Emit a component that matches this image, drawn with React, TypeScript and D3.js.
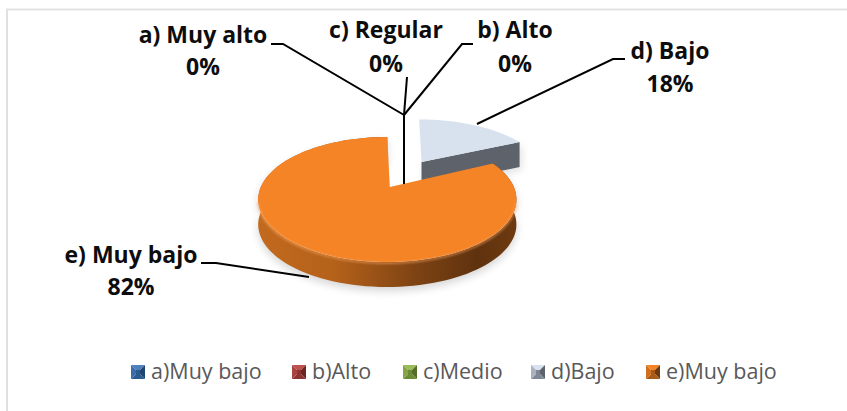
import React from "react";
import * as d3 from "d3";

const W = 847, H = 411;
const sliceNames = ["a) Muy alto", "b) Alto", "c) Regular", "d) Bajo", "e) Muy bajo"];
const sliceValues = [0, 0, 0, 18, 82];
const sliceLabels = ["0%", "0%", "0%", "18%", "82%"];
const legendNames = ["a)Muy bajo", "b)Alto", "c)Medio", "d)Bajo", "e)Muy bajo"];
const legendX = [131, 292, 403, 531, 646];
const legendPalette = [
  ["#4f81bd", "#2c5a8f", "#1f4672", "#3a6ea8"],
  ["#c0504d", "#8e3432", "#6e2422", "#a84543"],
  ["#9bbb59", "#6d8a36", "#536c26", "#86a348"],
  ["#d9e2ee", "#7f8894", "#5d626b", "#aab2bd"],
  ["#f58426", "#a85a17", "#6d3a10", "#d0701f"],
];
const labelPos: [number, number, number][] = [
  [203, 43, 75],
  [515, 38, 72],
  [386, 38, 72],
  [670, 59, 92],
  [131, 263, 295],
];
const leaders: [number, number][][] = [
  [[271, 44], [283, 44], [404, 115], [404, 184]],
  [[473, 44], [462, 44], [404, 115]],
  [[407, 77], [404, 115]],
  [[625, 59], [613, 59], [477, 124]],
  [[201, 263], [216, 263], [309, 277]],
];

// Perspective projection of the unit pie disc onto the page
const apexX = 387.3, apexY = 187, scaleU = 126.5, scaleV = 60, persp = 0.2, depth = 25;
const project = (u: number, v: number): [number, number] => {
  const w = 1 - persp * v;
  return [apexX + (scaleU * u) / w, apexY + (scaleV * v) / w];
};

const arcs = d3.pie<number>().sort(null).startAngle(0).endAngle(2 * Math.PI)(sliceValues);
const bajo = arcs[3];
const muyBajo = arcs[4];
const explode: [number, number] = [0.325, -0.4545];

const rim = (a0: number, a1: number, off: [number, number] = [0, 0]) =>
  d3.range(0, 121).map((i) => {
    const a = a0 + ((a1 - a0) * i) / 120;
    return project(off[0] + Math.sin(a), off[1] - Math.cos(a));
  });

const line = d3.line<[number, number]>();
const down = (p: [number, number]): [number, number] => [p[0], p[1] + depth];

const bajoApex = project(explode[0] - 0.03, explode[1]);
const bajoRim = rim(bajo.startAngle, bajo.endAngle, explode);
const bajoTop = line([bajoApex, ...bajoRim])! + "Z";
const bajoWall = line([bajoApex, bajoRim[bajoRim.length - 1], down(bajoRim[bajoRim.length - 1]), down(bajoApex)])! + "Z";

const mbApex = project(0.02, 0);
const mbRim = rim(muyBajo.startAngle, muyBajo.endAngle);
const mbTop = line([mbApex, ...mbRim])! + "Z";
const mbFront = mbRim.filter((p) => p[1] > 200);
const mbWall = line([...mbRim, ...[...mbRim].reverse().map(down)])! + "Z";
const mbEdge = line(mbFront)!;

function Marker({ x, y, c }: { x: number; y: number; c: string[] }) {
  const s = 14, m = 5;
  const a = `${x},${y}`, b = `${x + s},${y}`, d = `${x + s},${y + s}`, e = `${x},${y + s}`;
  const i1 = `${x + m},${y + m}`, i2 = `${x + s - m},${y + m}`, i3 = `${x + s - m},${y + s - m}`, i4 = `${x + m},${y + s - m}`;
  return (
    <g>
      <polygon points={`${a} ${b} ${i2} ${i1}`} fill={c[0]} />
      <polygon points={`${b} ${d} ${i3} ${i2}`} fill={c[2]} />
      <polygon points={`${d} ${e} ${i4} ${i3}`} fill={c[1]} />
      <polygon points={`${e} ${a} ${i1} ${i4}`} fill={c[3]} />
      <polygon points={`${i1} ${i2} ${i3} ${i4}`} fill={c[1]} />
    </g>
  );
}

export default function App() {
  const font = "'Open Sans', Lato, sans-serif";
  return (
    <svg width={W} height={H} style={{ position: "absolute", left: 0, top: 0 }} fontFamily={font}>
      <defs>
        <linearGradient id="wallO" gradientUnits="userSpaceOnUse" x1="258" x2="516" y1="0" y2="0">
          <stop offset="0" stopColor="#c26a1e" />
          <stop offset="0.3" stopColor="#b4611a" />
          <stop offset="0.62" stopColor="#7c4213" />
          <stop offset="0.85" stopColor="#5f320e" />
          <stop offset="1" stopColor="#6e3a10" />
        </linearGradient>
        <filter id="soft" x="-20%" y="-20%" width="140%" height="140%">
          <feGaussianBlur stdDeviation="4" />
        </filter>
        <filter id="edge" x="-5%" y="-20%" width="110%" height="140%">
          <feGaussianBlur stdDeviation="1.2" />
        </filter>
      </defs>
      <rect width={W} height={H} fill="#fff" />
      <line x1="7" y1="9" x2="7" y2={H} stroke="#e0e0e0" strokeWidth="2" />
      <line x1="6" y1="9.5" x2={W} y2="9.5" stroke="#e2e2e2" strokeWidth="2" />

      <path d={mbWall} transform="translate(0,4)" fill="#000" opacity="0.16" filter="url(#soft)" />
      <path d={bajoWall} transform="translate(2,3)" fill="#000" opacity="0.12" filter="url(#soft)" />

      <path d={bajoWall} fill="#5d626b" />
      <path d={bajoTop} fill="#d8e2ee" />

      <path d={mbWall} fill="url(#wallO)" />
      <path d={mbTop} fill="#f58426" />
      <path d={mbEdge} transform="translate(0,1)" fill="none" stroke="#f9a662" strokeWidth="2" opacity="0.6" filter="url(#edge)" />

      {leaders.map((pts, i) => (
        <path key={i} d={line(pts)!} fill="none" stroke="#000" strokeWidth="2" />
      ))}

      {sliceNames.map((name, i) => (
        <g key={name} fontSize="23" fontWeight="700" fill="#0d0d0d" textAnchor="middle">
          <text x={labelPos[i][0]} y={labelPos[i][1]}>{name}</text>
          <text x={labelPos[i][0]} y={labelPos[i][2]}>{sliceLabels[i]}</text>
        </g>
      ))}

      {legendNames.map((name, i) => (
        <g key={name + i}>
          <Marker x={legendX[i]} y={365} c={legendPalette[i]} />
          <text x={legendX[i] + 20} y={379} fontSize="21.5" fill="#595959">{name}</text>
        </g>
      ))}
    </svg>
  );
}
